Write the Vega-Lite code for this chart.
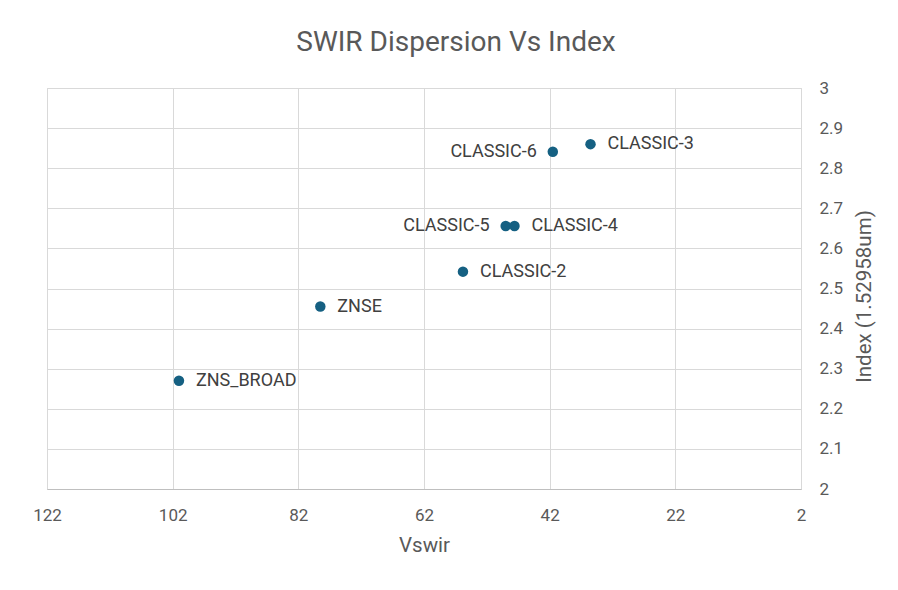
{
  "$schema": "https://vega.github.io/schema/vega-lite/v6.json",
  "width": 754,
  "height": 401,
  "autosize": {"type": "none"},
  "padding": {"left": 47, "top": 88, "right": 97, "bottom": 101},
  "background": "white",
  "title": {
    "text": "SWIR Dispersion Vs Index",
    "fontSize": 28,
    "font": "Roboto",
    "fontWeight": "normal",
    "color": "#595959",
    "anchor": "middle",
    "dx": 32,
    "offset": 22
  },
  "data": {
    "values": [
      {"name": "ZNS_BROAD", "vswir": 101.0, "index": 2.270, "side": "right"},
      {"name": "ZNSE", "vswir": 78.5, "index": 2.455, "side": "right"},
      {"name": "CLASSIC-2", "vswir": 55.8, "index": 2.542, "side": "right"},
      {"name": "CLASSIC-5", "vswir": 49.0, "index": 2.656, "side": "left"},
      {"name": "CLASSIC-4", "vswir": 47.6, "index": 2.656, "side": "right"},
      {"name": "CLASSIC-6", "vswir": 41.5, "index": 2.841, "side": "left"},
      {"name": "CLASSIC-3", "vswir": 35.5, "index": 2.860, "side": "right"}
    ]
  },
  "encoding": {
    "x": {
      "field": "vswir",
      "type": "quantitative",
      "scale": {"domain": [2, 122], "reverse": true, "nice": false, "zero": false},
      "axis": {
        "title": "Vswir",
        "values": [122, 102, 82, 62, 42, 22, 2],
        "grid": true,
        "gridColor": "#d9d9d9",
        "domainColor": "#bfbfbf",
        "ticks": false,
        "labelFlush": false,
        "labelPadding": 18,
        "labelFontSize": 17,
        "labelFont": "Roboto",
        "labelColor": "#595959",
        "titleFontSize": 20.5,
        "titleFont": "Roboto",
        "titleFontWeight": "normal",
        "titleColor": "#595959",
        "titlePadding": 12
      }
    },
    "y": {
      "field": "index",
      "type": "quantitative",
      "scale": {"domain": [2, 3], "nice": false, "zero": false},
      "axis": {
        "orient": "right",
        "title": "Index (1.52958um)",
        "titleAngle": 270,
        "titleBaseline": "top",
        "titleY": 208,
        "values": [2, 2.1, 2.2, 2.3, 2.4, 2.5, 2.6, 2.7, 2.8, 2.9, 3],
        "format": ".1~f",
        "grid": true,
        "gridColor": "#d9d9d9",
        "domain": false,
        "ticks": false,
        "labelFlush": false,
        "labelPadding": 18,
        "labelFontSize": 17,
        "labelFont": "Roboto",
        "labelColor": "#595959",
        "titleFontSize": 20.5,
        "titleFont": "Roboto",
        "titleFontWeight": "normal",
        "titleColor": "#595959",
        "titlePadding": 12
      }
    }
  },
  "layer": [
    {
      "mark": {"type": "point", "filled": true, "size": 110, "color": "#156082", "opacity": 1}
    },
    {
      "transform": [{"filter": "datum.side == 'right'"}],
      "mark": {"type": "text", "align": "left", "baseline": "middle", "dx": 17, "fontSize": 18, "font": "Roboto", "color": "#404040"},
      "encoding": {"text": {"field": "name"}}
    },
    {
      "transform": [{"filter": "datum.side == 'left'"}],
      "mark": {"type": "text", "align": "right", "baseline": "middle", "dx": -16, "fontSize": 18, "font": "Roboto", "color": "#404040"},
      "encoding": {"text": {"field": "name"}}
    }
  ],
  "config": {
    "view": {"stroke": "#d9d9d9"}
  }
}
